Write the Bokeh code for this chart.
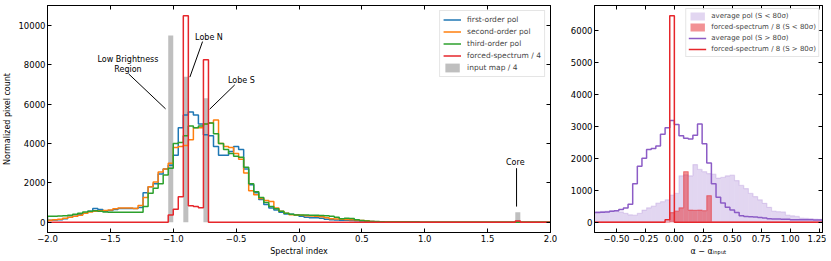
import numpy as np
from bokeh.plotting import figure
from bokeh.layouts import row
from bokeh.models import (Range1d, LinearAxis, FixedTicker, CustomJSTickFormatter,
                          Legend, LegendItem)
from bokeh.core.properties import value
from bokeh.embed import file_html
from bokeh.resources import INLINE

FONT = "DejaVu Sans"

# ---------------- left panel data (spectral index histograms) ----------------
spec_bin_start = -2.0
spec_bin_width = 0.04
first_order_pol = [
    100, 110, 130, 180, 250, 300, 380, 450, 550, 700,
    650, 550, 600, 650, 700, 700, 700, 700, 750, 1500,
    1800, 1950, 2450, 2700, 2900, 3400, 4800, 5450, 5600, 5450,
    5000, 4450, 4400, 3850, 3400, 3400, 3600, 3850, 3700, 2700,
    1900, 1500, 1150, 900, 720, 620, 500, 420, 400, 380,
    300, 250, 230, 220, 200, 150, 120, 110, 100, 100,
    90, 70, 60, 40, 30, 20, 15, 10, 10, 8,
    6, 5, 4, 3, 2, 2, 1, 1, 0, 0,
    0, 0, 0, 0, 0, 0, 0, 0, 0, 0,
    0, 0, 0, 0, 0, 0, 0, 0, 0, 0]
second_order_pol = [
    100, 120, 150, 200, 250, 300, 350, 450, 520, 560,
    580, 600, 620, 680, 720, 720, 720, 700, 850, 1250,
    1800, 2050, 2550, 2700, 3000, 3800, 3850, 3900, 4200, 4800,
    4800, 5000, 5050, 5200, 4000, 3850, 3800, 3500, 3200, 2500,
    1600, 1400, 1200, 1100, 1050, 720, 550, 460, 380, 370,
    350, 330, 320, 300, 280, 220, 180, 160, 150, 140,
    130, 110, 90, 70, 40, 25, 15, 10, 8, 5,
    4, 3, 2, 2, 1, 1, 0, 0, 0, 0,
    0, 0, 0, 0, 0, 0, 0, 0, 0, 0,
    0, 0, 0, 0, 0, 0, 0, 0, 0, 0]
third_order_pol = [
    300, 300, 320, 330, 350, 400, 450, 520, 560, 580,
    550, 520, 500, 500, 500, 500, 500, 500, 500, 800,
    1470, 1730, 1950, 2400, 2750, 4000, 4050, 4400, 4900, 4800,
    4900, 5000, 5050, 4500, 4000, 3700, 3500, 3350, 3300, 2800,
    1950, 1550, 1250, 1000, 800, 680, 550, 460, 400, 370,
    370, 360, 350, 350, 340, 330, 300, 250, 170, 200,
    190, 120, 90, 60, 40, 30, 20, 15, 10, 8,
    6, 5, 4, 3, 2, 2, 1, 1, 0, 0,
    0, 0, 0, 0, 0, 0, 0, 0, 0, 0,
    0, 0, 0, 0, 0, 0, 0, 0, 0, 0]
forced_bin_left = [-1.04, -1.00, -0.96, -0.92, -0.88, -0.84, -0.80, -0.76, 1.72]
forced_counts_div4 = [370, 660, 1300, 10500, 830, 800, 740, 8260, 60]
input_bin_left = [-1.04, -0.92, -0.76, 1.72]
input_counts_div4 = [9500, 7400, 6300, 500]

left_xticks = [-2.0, -1.5, -1.0, -0.5, 0.0, 0.5, 1.0, 1.5, 2.0]
left_yticks = [0, 2000, 4000, 6000, 8000, 10000]

annot_text = ["Low Brightness\nRegion", "Lobe N", "Lobe S", "Core"]
annot_text_x = [-1.36, -0.716, -0.458, 1.72]
annot_text_y = [8030, 9415, 7206, 3053]
annot_x0 = [-1.355, -0.767, -0.511, 1.73]
annot_y0 = [7547, 9190, 6987, 2748]
annot_x1 = [-1.061, -0.868, -0.71, 1.73]
annot_y1 = [5766, 7380, 5750, 794]

# ---------------- right panel data (alpha - alpha_input) ----------------
resid_bin_start = -0.72
resid_bin_width = 0.04
avg_pol_hi = [
    300, 300, 310, 320, 340, 360, 400, 440, 560, 1200,
    1750, 2000, 2270, 2300, 2380, 2750, 2950, 3180, 3050, 2700,
    2620, 2600, 2720, 3070, 2450, 1850, 1200, 780, 600, 470,
    380, 300, 200, 180, 170, 160, 150, 130, 110, 100,
    100, 90, 90, 80, 80, 80, 80, 80, 70, 70]
avg_pol_lo = [
    300, 330, 340, 350, 360, 350, 320, 280, 230, 220,
    280, 380, 450, 500, 600, 640, 700, 850, 900, 1450,
    1480, 1450, 1800, 1650, 1580, 1520, 1500, 1380, 1400, 1450,
    1470, 1300, 1150, 1050, 900, 800, 700, 590, 465, 350,
    330, 320, 220, 200, 180, 130, 120, 110, 100, 90]
forced_lo_bin_left = [-0.04, 0.00, 0.04, 0.08, 0.12, 0.16, 0.20, 0.24, 0.28]
forced_lo_div8 = [300, 350, 450, 1580, 380, 370, 380, 360, 830]
forced_hi_bin_left = [-0.08, -0.04]
forced_hi_div8 = [80, 6450]

right_xticks = [-0.5, -0.25, 0.0, 0.25, 0.5, 0.75, 1.0, 1.25]
right_yticks = [0, 1000, 2000, 3000, 4000, 5000, 6000]

BLUE, ORANGE, GREEN = "#1f77b4", "#ff7f0e", "#2ca02c"
RED, GRAY, PURPLE = "#e6262b", "#bfbfbf", "#8c5cc6"

LEFT_XR = (-2.0, 2.0)
LEFT_YR = (-525, 11025)
RIGHT_XR = (-0.69, 1.28)
RIGHT_YR = (-322, 6772)
FRAME_H = 227


def edges_for(start, width, n):
    return start + width * np.arange(n + 1)


def dense(start, width, n, lefts, counts):
    arr = np.zeros(n)
    idx = np.rint((np.array(lefts) - start) / width).astype(int)
    arr[idx] = counts
    return arr


def step_xy(edges, counts):
    xs = np.repeat(edges, 2)
    ys = np.concatenate([[0.0], np.repeat(np.asarray(counts, float), 2), [0.0]])
    return xs, ys


def style_axis(ax, ticks, decimals, labels=True):
    ax.ticker = FixedTicker(ticks=ticks)
    ax.major_tick_in = 4
    ax.major_tick_out = 0
    ax.minor_tick_in = 0
    ax.minor_tick_out = 0
    ax.axis_line_color = "black"
    ax.major_tick_line_color = "black"
    ax.major_label_text_font = FONT
    ax.major_label_text_color = "black"
    ax.axis_label_text_font = FONT
    ax.axis_label_text_font_size = "8px"
    ax.axis_label_text_font_style = "normal"
    ax.axis_label_text_color = "black"
    if labels:
        ax.formatter = CustomJSTickFormatter(
            code="return tick.toFixed(%d).replace('-', '\\u2212');" % decimals)
        ax.major_label_text_font_size = "8.5px"
        ax.major_label_standoff = 2
    else:
        ax.formatter = CustomJSTickFormatter(code="return '';")
        ax.major_label_text_font_size = "1px"
        ax.major_label_standoff = 0


def base_fig(frame_w, xr, yr, mbl, mbr):
    p = figure(frame_width=frame_w, frame_height=FRAME_H, x_range=Range1d(*xr),
               y_range=Range1d(*yr), min_border_left=mbl, min_border_right=mbr,
               min_border_top=5, min_border_bottom=26, output_backend="svg",
               toolbar_location=None, tools="")
    p.xgrid.visible = False
    p.ygrid.visible = False
    p.outline_line_color = "black"
    p.outline_line_width = 1
    p.background_fill_color = "white"
    p.border_fill_color = "white"
    return p


def add_box_axes(p, xticks, yticks, xdec, ydec):
    top = LinearAxis()
    style_axis(top, xticks, xdec, labels=False)
    p.add_layout(top, "above")
    right = LinearAxis()
    style_axis(right, yticks, ydec, labels=False)
    p.add_layout(right, "right")


# ================= left figure =================
n_left = len(first_order_pol)
edges_l = edges_for(spec_bin_start, spec_bin_width, n_left)
forced_l = dense(spec_bin_start, spec_bin_width, n_left, forced_bin_left, forced_counts_div4)
input_l = dense(spec_bin_start, spec_bin_width, n_left, input_bin_left, input_counts_div4)

p1 = base_fig(503, LEFT_XR, LEFT_YR, 46, 14)
xax1 = p1.below[0]
yax1 = p1.left[0]

r_gray = p1.quad(left=edges_l[:-1], right=edges_l[1:], bottom=0, top=input_l,
                 fill_color=GRAY, fill_alpha=1.0, line_color=None)
line_renderers = []
for series, col in [(first_order_pol, BLUE), (second_order_pol, ORANGE),
                    (third_order_pol, GREEN), (forced_l, RED)]:
    xs, ys = step_xy(edges_l, series)
    line_renderers.append(p1.line(xs, ys, line_color=col, line_width=1.5))

p1.segment(x0=annot_x0, y0=annot_y0, x1=annot_x1, y1=annot_y1,
           line_color="black", line_width=1)
p1.text(x=annot_text_x, y=annot_text_y, text=annot_text, text_font=value(FONT),
        text_font_size="8px", text_align="center", text_baseline="middle",
        text_color="black", text_line_height=1.15)

style_axis(xax1, left_xticks, 1)
style_axis(yax1, left_yticks, 0)
add_box_axes(p1, left_xticks, left_yticks, 1, 0)

xax1.axis_label = "Spectral index"
xax1.axis_label_standoff = 2
yax1.axis_label = "Normalized pixel count"
yax1.axis_label_standoff = 3

leg1 = Legend(items=[
    LegendItem(label="first-order pol", renderers=[line_renderers[0]]),
    LegendItem(label="second-order pol", renderers=[line_renderers[1]]),
    LegendItem(label="third-order pol", renderers=[line_renderers[2]]),
    LegendItem(label="forced-spectrum / 4", renderers=[line_renderers[3]]),
    LegendItem(label="input map / 4", renderers=[r_gray]),
], location="top_right")
leg1.label_text_font = FONT
leg1.label_text_font_size = "7.5px"
leg1.glyph_width = 18
leg1.glyph_height = 11
leg1.label_height = 11
leg1.label_standoff = 6
leg1.spacing = 1
leg1.padding = 3
leg1.margin = 5
leg1.border_line_color = "#cccccc"
leg1.background_fill_alpha = 0.8
p1.add_layout(leg1)

# ================= right figure =================
n_right = len(avg_pol_hi)
edges_r = edges_for(resid_bin_start, resid_bin_width, n_right)
forced_lo = dense(resid_bin_start, resid_bin_width, n_right, forced_lo_bin_left, forced_lo_div8)
forced_hi = dense(resid_bin_start, resid_bin_width, n_right, forced_hi_bin_left, forced_hi_div8)

p2 = base_fig(228, RIGHT_XR, RIGHT_YR, 30, 4)
xax2 = p2.below[0]
yax2 = p2.left[0]

r_lav = p2.quad(left=edges_r[:-1], right=edges_r[1:], bottom=0, top=avg_pol_lo,
                fill_color=PURPLE, fill_alpha=0.25, line_color=None)
xs, ys = step_xy(edges_r, avg_pol_lo)
p2.line(xs, ys, line_color=PURPLE, line_alpha=0.2, line_width=1.2)

r_redfill = p2.quad(left=edges_r[:-1], right=edges_r[1:], bottom=0, top=forced_lo,
                    fill_color=RED, fill_alpha=0.5, line_color=None)
xs, ys = step_xy(edges_r, forced_lo)
p2.line(xs, ys, line_color=RED, line_alpha=0.45, line_width=1.2)

xs, ys = step_xy(edges_r, avg_pol_hi)
r_purple = p2.line(xs, ys, line_color=PURPLE, line_width=1.5)
xs, ys = step_xy(edges_r, forced_hi)
r_redline = p2.line(xs, ys, line_color=RED, line_width=1.5)

style_axis(xax2, right_xticks, 2)
style_axis(yax2, right_yticks, 0)
add_box_axes(p2, right_xticks, right_yticks, 2, 0)
xax2.axis_label = "α − α\u1d62\u2099\u209a\u1d64\u209c"
xax2.axis_label_standoff = 2

leg2 = Legend(items=[
    LegendItem(label="average pol (S < 80σ)", renderers=[r_lav]),
    LegendItem(label="forced-spectrum / 8 (S < 80σ)", renderers=[r_redfill]),
    LegendItem(label="average pol (S > 80σ)", renderers=[r_purple]),
    LegendItem(label="forced-spectrum / 8 (S > 80σ)", renderers=[r_redline]),
], location="top_right")
leg2.label_text_font = FONT
leg2.label_text_font_size = "7px"
leg2.glyph_width = 18
leg2.glyph_height = 10
leg2.label_height = 10
leg2.label_standoff = 5
leg2.spacing = 1
leg2.padding = 2
leg2.margin = 3
leg2.border_line_color = "#cccccc"
leg2.background_fill_alpha = 0.8
p2.add_layout(leg2)

layout = row(p1, p2)
with open("out.html", "w", encoding="utf-8") as f:
    f.write(file_html(layout, INLINE))
